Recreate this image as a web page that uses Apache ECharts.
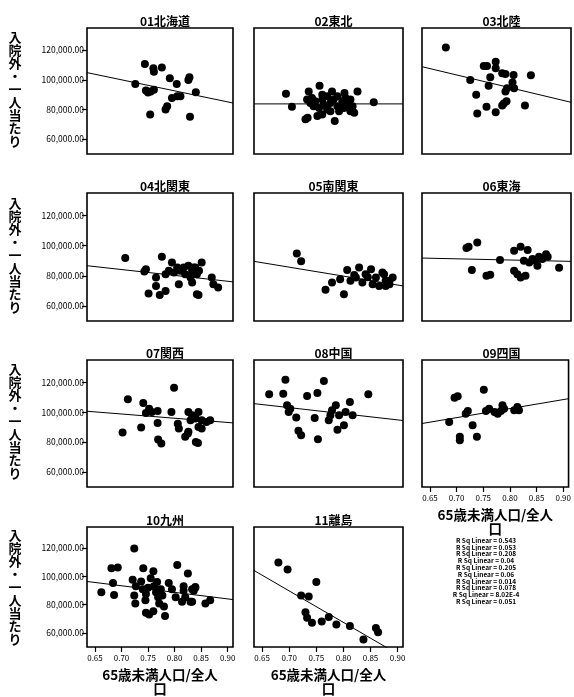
<!DOCTYPE html>
<html><head><meta charset="utf-8">
<script src="https://cdn.jsdelivr.net/npm/echarts@6/dist/echarts.min.js"></script>
<style>html,body{margin:0;padding:0;background:#fff}#c{width:574px;height:697px}</style>
</head><body><div id="c"></div>
<script>
const regions = ["01北海道","02東北","03北陸","04北関東","05南関東","06東海","07関西","08中国","09四国","10九州","11離島"];
const xTicks = [0.65,0.70,0.75,0.80,0.85,0.90];
const yTicks = [60000,80000,100000,120000];
const yTitle = "入院外・一人当たり";
const xTitle = "65歳未満人口/全人\n口";
const rSq = ["0.543","0.053","0.208","0.04","0.205","0.06","0.014","0.078","8.02E-4","0.051"];

const p01 = [[0.726,97300],[0.744,110700],[0.760,107800],[0.761,105500],[0.776,108400],[0.791,101100],[0.804,97300],[0.746,92900],[0.755,92200],[0.761,93300],[0.750,91500],[0.786,82200],[0.783,80000],[0.795,87800],[0.805,88900],[0.811,88900],[0.754,76700],[0.828,101800],[0.826,100000],[0.829,75100],[0.840,91600]];
const p02 = [[0.694,90700],[0.705,81800],[0.734,74400],[0.730,73500],[0.736,92200],[0.756,96000],[0.779,92200],[0.802,91100],[0.826,92200],[0.856,84900],[0.784,72200],[0.761,76700],[0.752,75600],[0.820,77800],[0.742,87800],[0.748,85600],[0.745,82200],[0.755,81100],[0.761,86700],[0.764,83300],[0.770,80000],[0.776,84400],[0.782,86700],[0.789,82200],[0.792,78900],[0.798,85600],[0.801,81100],[0.807,83300],[0.813,86700],[0.817,82200],[0.761,90000],[0.770,88900],[0.739,84400],[0.733,86700],[0.804,87800],[0.789,88900],[0.813,78900],[0.776,78900]];
const p03 = [[0.679,121800],[0.749,109300],[0.755,109300],[0.771,112200],[0.771,107800],[0.724,100000],[0.761,101800],[0.783,104400],[0.789,104000],[0.804,103300],[0.836,103100],[0.758,96000],[0.802,98200],[0.792,94400],[0.789,92200],[0.805,94400],[0.735,90000],[0.754,81800],[0.737,77300],[0.771,78200],[0.786,84000],[0.791,85600],[0.783,82700],[0.825,82700]];
const p04 = [[0.707,91800],[0.746,84400],[0.743,82900],[0.776,92700],[0.765,78900],[0.765,73300],[0.751,68200],[0.772,67300],[0.783,70000],[0.783,81100],[0.789,83300],[0.795,88900],[0.799,82200],[0.805,85600],[0.811,83300],[0.817,85600],[0.820,81100],[0.826,86700],[0.833,83300],[0.839,85600],[0.842,81100],[0.808,74400],[0.833,75600],[0.842,67800],[0.836,85600],[0.851,88900],[0.846,83300],[0.830,78900],[0.870,78900],[0.873,74400],[0.882,72200],[0.845,67300]];
const p05 = [[0.714,94900],[0.722,89600],[0.767,70700],[0.779,75600],[0.794,77800],[0.801,67800],[0.807,83800],[0.813,76700],[0.823,78900],[0.829,85600],[0.835,75600],[0.841,81100],[0.851,84400],[0.854,74400],[0.860,78900],[0.866,73300],[0.872,82200],[0.878,76700],[0.885,74400],[0.875,81100],[0.885,76700],[0.891,78900],[0.878,73300],[0.845,79000],[0.820,80500]];
const p06 = [[0.717,98400],[0.721,99300],[0.737,102200],[0.727,83800],[0.754,80000],[0.761,80700],[0.779,90500],[0.805,96700],[0.817,99300],[0.830,97100],[0.805,83300],[0.811,81100],[0.817,78900],[0.826,80000],[0.823,90000],[0.833,88900],[0.839,91100],[0.845,90000],[0.851,92700],[0.857,91100],[0.864,94400],[0.848,86700],[0.867,92700],[0.888,85300]];
const p07 = [[0.702,86400],[0.712,108700],[0.737,89800],[0.741,106200],[0.746,99500],[0.752,102400],[0.757,100200],[0.768,100900],[0.768,92900],[0.769,81800],[0.775,79100],[0.799,116500],[0.794,100200],[0.806,92400],[0.808,89100],[0.820,83600],[0.825,85800],[0.826,100200],[0.833,98000],[0.830,94700],[0.839,95800],[0.840,80200],[0.839,96900],[0.845,100200],[0.851,94700],[0.860,93500],[0.867,94700],[0.845,90200],[0.851,89100],[0.844,79500],[0.826,86900]];
const p08 = [[0.663,112000],[0.693,121800],[0.689,112400],[0.696,104700],[0.702,102400],[0.699,100200],[0.713,96500],[0.717,87600],[0.722,84700],[0.733,110900],[0.747,96200],[0.752,112900],[0.753,82000],[0.764,120900],[0.773,94700],[0.779,101300],[0.786,104700],[0.776,98000],[0.789,88400],[0.792,98000],[0.801,91300],[0.804,100200],[0.812,106900],[0.817,98000],[0.846,112000]];
const p09 = [[0.696,109800],[0.702,110700],[0.686,93500],[0.706,83600],[0.706,81300],[0.717,99100],[0.721,100900],[0.730,91300],[0.738,83600],[0.751,115100],[0.755,100900],[0.761,102400],[0.771,100200],[0.777,99100],[0.783,100900],[0.786,104700],[0.789,102400],[0.808,101300],[0.814,103500],[0.817,101300]];
const p10 = [[0.662,88700],[0.681,105800],[0.693,106400],[0.684,95300],[0.686,86900],[0.724,119800],[0.721,97600],[0.727,93100],[0.724,86400],[0.726,80900],[0.741,105800],[0.737,96400],[0.740,90900],[0.746,87600],[0.745,83100],[0.746,74200],[0.752,73100],[0.760,75300],[0.760,103600],[0.755,98700],[0.761,93100],[0.765,88700],[0.769,85300],[0.774,90900],[0.777,86400],[0.771,80900],[0.780,78700],[0.782,72000],[0.789,95300],[0.795,90900],[0.802,85300],[0.805,108000],[0.814,82000],[0.820,85300],[0.817,89800],[0.830,82000],[0.825,102000],[0.836,89800],[0.839,92500],[0.817,93100],[0.833,90900],[0.839,92000],[0.833,82000],[0.858,80900],[0.867,83100],[0.750,92000],[0.767,96000]];
const p11 = [[0.680,109800],[0.697,104900],[0.722,86400],[0.736,85800],[0.750,96000],[0.730,74700],[0.733,70700],[0.742,67100],[0.760,68000],[0.773,71300],[0.787,66000],[0.812,64900],[0.837,55300],[0.860,63500],[0.864,60400]];
const points = [p01,p02,p03,p04,p05,p06,p07,p08,p09,p10,p11];
// fit-line values read at x = 0.635 (left) and x = 0.91 (right)
const lineX = [0.635, 0.91];
const lineLeft  = [104900, 83800, 108900, 86700, 89600, 91800, 100700, 105800, 92500, 96400, 104200];
const lineRight = [ 84400, 83800,  84900, 76000, 73300, 89600,  92900,  94500, 109100, 83600, 42900];

const FONT = '"Noto Sans CJK JP","Noto Sans",sans-serif';
const colLeft = [87, 254, 422], colW = [146, 149, 149];
const rowTop = [28, 193, 360, 527], rowH = [126, 128, 127, 125];
const showXLab = [false,false,false,false,false,false,false,false,true,true,true];

const grids = [], xAxes = [], yAxes = [], series = [], titles = [], graphics = [];
regions.forEach((name, i) => {
  const r = Math.floor(i / 3), c = i % 3;
  grids.push({left: colLeft[c], top: rowTop[r], width: colW[c], height: rowH[r], show: true,
    borderColor: '#000', borderWidth: 1.6, backgroundColor: '#fff', containLabel: false});
  titles.push({text: name, left: colLeft[c] + colW[c] / 2, top: rowTop[r] - 18, textAlign: 'center',
    textStyle: {fontFamily: FONT, fontSize: 12, fontWeight: 'bold', color: '#000'}});
  xAxes.push({type: 'value', gridIndex: i, min: 0.635, max: 0.91,
    axisLine: {show: false}, splitLine: {show: false},
    axisTick: {show: showXLab[i], customValues: xTicks, length: 5, lineStyle: {color: '#000', width: 1.2}},
    axisLabel: {show: showXLab[i], customValues: xTicks, formatter: v => v.toFixed(2), fontSize: 8, color: '#000', fontFamily: FONT, margin: 7},
    name: showXLab[i] ? xTitle : '', nameLocation: 'middle', nameGap: 21,
    nameTextStyle: {fontFamily: FONT, fontSize: 13.5, fontWeight: 'bold', color: '#000', lineHeight: 14, verticalAlign: 'top'}});
  yAxes.push({type: 'value', gridIndex: i, min: 50000, max: 135000,
    axisLine: {show: false}, splitLine: {show: false},
    axisTick: {show: c === 0, customValues: yTicks, length: 5, lineStyle: {color: '#000', width: 1.2}},
    axisLabel: {show: c === 0, customValues: yTicks, fontSize: 8.5, color: '#000', fontFamily: FONT, margin: 3,
      formatter: v => v.toLocaleString('en-US', {minimumFractionDigits: 2, maximumFractionDigits: 2})}});
  series.push({type: 'scatter', xAxisIndex: i, yAxisIndex: i, data: points[i], symbol: 'circle', symbolSize: 8,
    itemStyle: {color: '#000', opacity: 1}, silent: true});
  series.push({type: 'line', xAxisIndex: i, yAxisIndex: i, data: [[lineX[0], lineLeft[i]], [lineX[1], lineRight[i]]],
    symbol: 'none', clip: true, lineStyle: {color: '#000', width: 1}, silent: true});
});
for (let r = 0; r < 4; r++) {
  graphics.push({type: 'text', x: 15, y: rowTop[r] + rowH[r] / 2 - 2,
    style: {text: yTitle.split('').join('\n'), font: 'bold 13px ' + FONT, fill: '#000',
      align: 'center', verticalAlign: 'middle', lineHeight: 13}});
}
graphics.push({type: 'text', x: 486, y: 537,
  style: {text: rSq.map(v => 'R Sq Linear = ' + v).join('\n'), font: 'bold 6.5px ' + FONT, fill: '#000',
    align: 'center', verticalAlign: 'top', lineHeight: 6.8}});

const chart = echarts.init(document.getElementById('c'), null, {renderer: 'canvas'});
chart.setOption({animation: false, backgroundColor: '#fff', title: titles, grid: grids,
  xAxis: xAxes, yAxis: yAxes, series: series, graphic: graphics});
</script></body></html>
